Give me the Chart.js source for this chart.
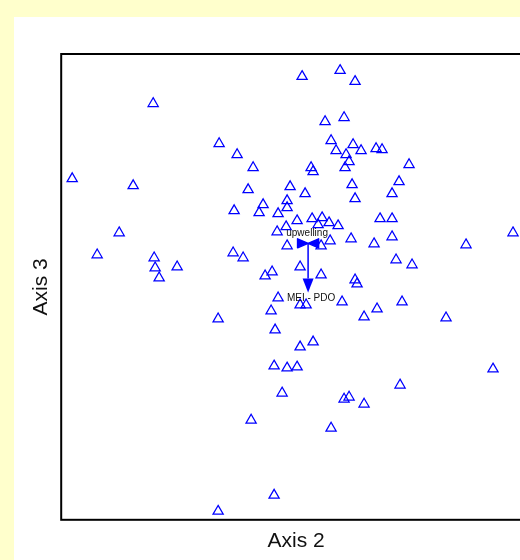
<!DOCTYPE html>
<html>
<head>
<meta charset="utf-8">
<title>Ordination: Axis 2 vs Axis 3</title>
<script src="https://cdn.jsdelivr.net/npm/chart.js@4/dist/chart.umd.min.js"></script>
<style>
  html, body { margin: 0; padding: 0; width: 520px; height: 560px; overflow: hidden; background: #ffffcc; }
  #panel { position: absolute; left: 14px; top: 17px; width: 620px; height: 600px; background: #ffffff; }
  #wrap { position: absolute; left: 0; top: 0; width: 620px; height: 560px; }
</style>
</head>
<body>
<div id="panel"></div>
<div id="wrap"><canvas id="ord" width="620" height="560"></canvas></div>
<script>
// Sample unit scores on ordination axes 2 and 3
const axis2 = [
  -0.06, 0.32, 0.47, -1.55, -0.89, -0.71, -2.36, -1.75, -0.74, -1.89,
  0.17, 0.36, 0.23, 0.45, 0.28, 0.38, 0.53, 0.68, 0.74, -0.55,
  0.03, 0.05, 0.41, 0.37, 1.01, 0.91, -0.60, -0.18, -0.03, 0.44,
  0.47, 0.84, -0.45, -0.49, -0.30, -0.21, -0.21, -0.11, 0.04, 0.14,
  0.10, 0.21, 0.30, 0.72, 0.84, -0.31, -0.22, 0.43, 0.84, 0.66,
  0.22, 1.58, 2.05, -0.75, -0.65, -0.21, 0.13, 0.88, 1.04, -0.08,
  0.13, -0.36, -0.43, 0.47, 0.49, -0.30, -0.08, -0.02, 0.34, 0.94,
  0.69, 0.56, 1.38, -0.37, -0.90, -0.33, -0.08, 0.05, -0.34, -0.21,
  -0.11, 1.85, 0.92, -0.26, 0.36, 0.41, 0.56, -0.57, 0.23, -0.34,
  -0.90, -2.11, -1.54, -1.53, -1.49, -1.31
];
const axis3 = [
  1.665, 1.725, 1.615, 1.395, 0.995, 0.885, 0.645, 0.575, 0.325, 0.105,
  1.215, 1.255, 1.025, 0.985, 0.925, 0.885, 0.925, 0.945, 0.935, 0.755,
  0.755, 0.715, 0.815, 0.755, 0.785, 0.615, 0.535, 0.565, 0.495, 0.585,
  0.445, 0.495, 0.385, 0.305, 0.295, 0.425, 0.355, 0.225, 0.245, 0.255,
  0.185, 0.205, 0.175, 0.245, 0.245, 0.115, 0.165, 0.045, 0.065, -0.005,
  0.025, -0.015, 0.105, -0.095, -0.145, -0.025, -0.025, -0.165, -0.215, -0.235,
  -0.315, -0.285, -0.325, -0.365, -0.405, -0.545, -0.615, -0.615, -0.585, -0.585,
  -0.655, -0.735, -0.745, -0.675, -0.755, -0.865, -1.035, -0.985, -1.225, -1.245,
  -1.235, -1.255, -1.415, -1.495, -1.555, -1.535, -1.605, -1.765, -1.845, -2.515,
  -2.675, -0.115, -0.145, -0.245, -0.345, -0.235
];

// Environmental variable vectors (joint plot), drawn from the origin
const vectorNames = ['upwelling', 'MEI - PDO'];
const vectorAxis2 = [0.01, 0.0];
const vectorAxis3 = [0.0, -0.49];

// Axis ranges and titles
const axis2Range = [-2.47, 2.23];
const axis3Range = [-2.76, 1.89];
const axisTitles = ['Axis 2', 'Axis 3'];

const FONT = "'Liberation Sans', Arial, Helvetica, sans-serif";
const BLUE = '#0000ff';

// Black frame round the plotting region
const framePlugin = {
  id: 'frame',
  beforeDatasetsDraw(chart) {
    const { ctx, chartArea: a } = chart;
    ctx.save();
    ctx.strokeStyle = '#000';
    ctx.lineWidth = 2;
    ctx.strokeRect(a.left, a.top, a.right - a.left, a.bottom - a.top);
    ctx.restore();
  }
};

// Joint-plot vectors with arrowheads and labels
const vectorPlugin = {
  id: 'vectors',
  afterDatasetsDraw(chart) {
    const { ctx, scales: { x, y } } = chart;
    const ox = x.getPixelForValue(0), oy = y.getPixelForValue(0);
    ctx.save();
    ctx.strokeStyle = BLUE;
    ctx.fillStyle = BLUE;
    ctx.lineWidth = 1.5;
    ctx.lineJoin = 'round';
    vectorNames.forEach((name, i) => {
      const tx = x.getPixelForValue(vectorAxis2[i]);
      const ty = y.getPixelForValue(vectorAxis3[i]);
      const dx = tx - ox, dy = ty - oy;
      const len = Math.hypot(dx, dy);
      const ux = len ? dx / len : 1, uy = len ? dy / len : 0;
      const px = -uy, py = ux;
      let labelX, labelY;
      ctx.fillStyle = BLUE;
      if (len < 8) {
        // vector shorter than its head: draw a double head about the origin
        const hl = 10.5, hw = 4.5;
        ctx.beginPath();
        ctx.moveTo(ox, oy);
        ctx.lineTo(ox - ux * hl + px * hw, oy - uy * hl + py * hw);
        ctx.lineTo(ox - ux * hl - px * hw, oy - uy * hl - py * hw);
        ctx.closePath();
        ctx.moveTo(ox, oy);
        ctx.lineTo(ox + ux * hl + px * hw, oy + uy * hl + py * hw);
        ctx.lineTo(ox + ux * hl - px * hw, oy + uy * hl - py * hw);
        ctx.closePath();
        ctx.fill();
        ctx.stroke();
        labelX = ox - 1; labelY = oy - 10;
      } else {
        const hl = 14, hw = 5.5;
        ctx.beginPath();
        ctx.moveTo(ox, oy);
        ctx.lineTo(tx - ux * hl, ty - uy * hl);
        ctx.stroke();
        ctx.beginPath();
        ctx.moveTo(tx, ty);
        ctx.lineTo(tx - ux * hl + px * hw, ty - uy * hl + py * hw);
        ctx.lineTo(tx - ux * hl - px * hw, ty - uy * hl - py * hw);
        ctx.closePath();
        ctx.fill();
        labelX = tx + 3; labelY = ty + 6;
      }
      ctx.fillStyle = '#111';
      ctx.font = '10px ' + FONT;
      ctx.textAlign = 'center';
      ctx.textBaseline = 'middle';
      ctx.fillText(name, labelX, labelY);
    });
    ctx.restore();
  }
};

const points = axis2.map((v, i) => ({ x: v, y: axis3[i] }));

new Chart(document.getElementById('ord'), {
  type: 'scatter',
  data: {
    datasets: [{
      data: points,
      pointStyle: 'triangle',
      pointRadius: 5.9,
      pointHoverRadius: 5.9,
      pointBorderWidth: 1.25,
      borderColor: BLUE,
      backgroundColor: 'rgba(0,0,0,0)',
      pointBorderColor: BLUE,
      pointBackgroundColor: 'rgba(0,0,0,0)'
    }]
  },
  options: {
    responsive: false,
    animation: false,
    devicePixelRatio: 1,
    events: [],
    layout: { padding: { left: 0, top: 54, right: 89, bottom: 0 } },
    plugins: { legend: { display: false }, tooltip: { enabled: false } },
    scales: {
      x: {
        type: 'linear',
        min: axis2Range[0], max: axis2Range[1],
        ticks: { display: false },
        grid: { display: false, drawTicks: false },
        border: { display: false },
        title: {
          display: true, text: axisTitles[0], color: '#111',
          font: { family: FONT, size: 21 },
          padding: { top: 9, bottom: 6 }
        }
      },
      y: {
        type: 'linear',
        min: axis3Range[0], max: axis3Range[1],
        ticks: { display: false },
        grid: { display: false, drawTicks: false },
        border: { display: false },
        title: {
          display: true, text: axisTitles[1], color: '#111',
          font: { family: FONT, size: 21 },
          padding: { top: 29, bottom: 7 }
        }
      }
    }
  },
  plugins: [framePlugin, vectorPlugin]
});
</script>
</body>
</html>
